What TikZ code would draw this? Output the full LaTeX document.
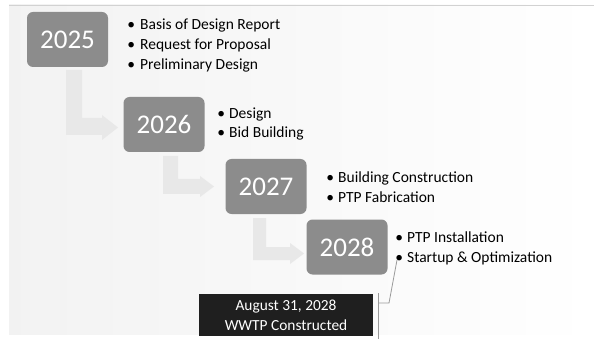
\documentclass[tikz,border=0pt]{standalone}
\usepackage{fontspec}
\setmainfont{Carlito}
\definecolor{boxgray}{HTML}{8C8C8C}
\definecolor{arrowgray}{HTML}{E8E8E8}
\definecolor{calloutblack}{HTML}{1F1F1F}
\definecolor{leadergray}{HTML}{9A9A9A}
\begin{document}
\begin{tikzpicture}[x=1pt,y=-1pt,
  yearbox/.style={fill=boxgray, rounded corners=6pt, minimum width=81pt, minimum height=55pt,
    text=white, font=\fontsize{27}{30}\selectfont, inner sep=0pt},
  item/.style={anchor=west, inner sep=0pt, font=\fontsize{15.5}{18}\selectfont,
    text height=11pt, text depth=3pt},
  flow/.style={fill=arrowgray, draw=none},
  callout/.style={fill=calloutblack, text=white, minimum width=174pt, minimum height=42pt,
    inner sep=0pt, align=center, font=\fontsize{15.4}{20}\selectfont},
  leader/.style={draw=leadergray, line width=0.8pt}]
\useasboundingbox (0,0) rectangle (594,339);
% slide panel
\shade[left color=gray!10, right color=white] (9,5) rectangle (594,334);
\draw[gray!35, line width=0.6pt] (9,5) -- (594,5);

% bent arrows
\fill[flow] (66,70) -- (82,70) -- (82,118) -- (102,118) -- (102,115) -- (118,127.5)
  -- (102,140) -- (102,135) -- (66,135) -- cycle;
\fill[flow] (163,156) -- (178,156) -- (178,179) -- (200,179) -- (200,176) -- (214,186.5)
  -- (200,197) -- (200,194) -- (163,194) -- cycle;
\fill[flow] (253,218) -- (266,218) -- (266,247) -- (290,247) -- (290,243) -- (304,253.5)
  -- (290,264) -- (290,260) -- (253,260) -- cycle;

% year boxes
\node[yearbox] (y25) at (67.5,39.5) {2025};
\node[yearbox] (y26) at (164,124.5) {2026};
\node[yearbox] (y27) at (266,186.5) {2027};
\node[yearbox] (y28) at (347,247) {2028};

% bullet items
\node[item] (a1) at (140,25.5) {\llap{•\hspace{5pt}}Basis of Design Report};
\node[item] (a2) at (140,45.5) {\llap{•\hspace{5pt}}Request for Proposal};
\node[item] (a3) at (140,65.5) {\llap{•\hspace{5pt}}Preliminary Design};
\node[item] (b1) at (229,114.5) {\llap{•\hspace{4pt}}Design};
\node[item] (b2) at (229,134) {\llap{•\hspace{4pt}}Bid Building};
\node[item] (c1) at (338,178.5) {\llap{•\hspace{4pt}}Building Construction};
\node[item] (c2) at (338,198.5) {\llap{•\hspace{4pt}}PTP Fabrication};
\node[item] (d1) at (407,238.5) {\llap{•\hspace{4pt}}PTP Installation};
\node[item] (d2) at (407,258.5) {\llap{•\hspace{4pt}}Startup \& Optimization};

% callout
\node[callout] (cal) at (286,315) {August 31, 2028\\WWTP Constructed};
\coordinate (bt) at (378,293);
\coordinate (bb) at (378,339);
\coordinate (bm) at (378,303);
\coordinate (bk) at (389,303);
\coordinate (bp) at (397,260);
\draw[leader] (bt) -- (bb);
\draw[leader] (bm) -- (bk) -- (bp);
\end{tikzpicture}
\end{document}
